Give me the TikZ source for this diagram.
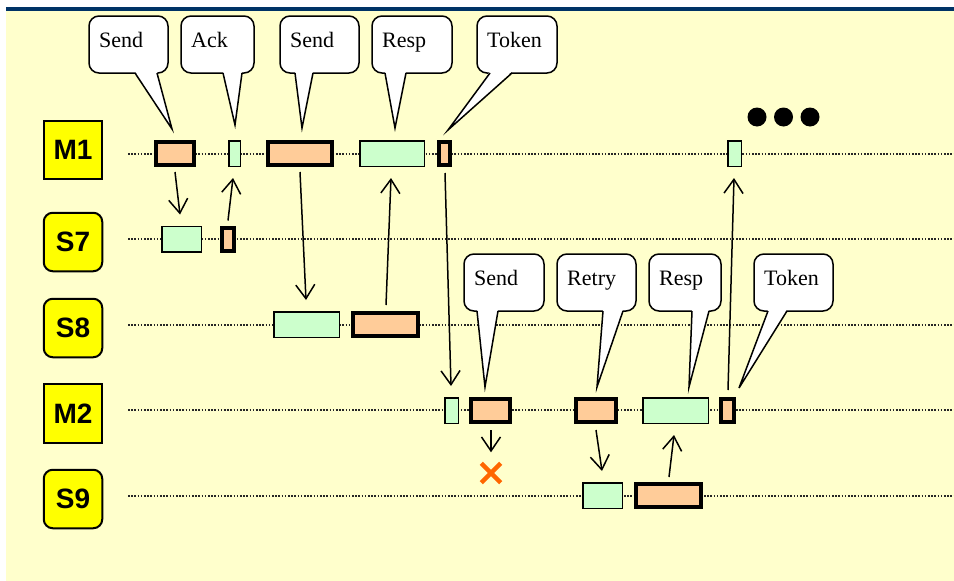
\documentclass[tikz,border=0pt]{standalone}
\usepackage{fontspec}
\setmainfont{Liberation Serif}
\newfontfamily\lanefont{Liberation Sans}
\usetikzlibrary{arrows.meta}
\definecolor{bgyellow}{HTML}{FFFFCC}
\definecolor{barblue}{HTML}{003366}
\definecolor{tagyellow}{HTML}{FFFF00}
\definecolor{reqfill}{HTML}{FFCC99}
\definecolor{ackfill}{HTML}{CCFFCC}
\definecolor{lostmark}{HTML}{FF6600}

% callout: name, left, right, top, bottom, tail base left, tail base right, tip, text
\newcommand\callout[9]{%
  \draw[bubble] (#2,#4) rectangle (#3,#5);
  \fill[white] (#6,#5-1.6) -- (#8) -- (#7,#5-1.6) -- cycle;
  \draw[bubbletail] (#6,#5) -- (#8) -- (#7,#5);
  \node[bubbletext] (#1) at (#2+10,#4+31) {#9};
}

\begin{document}
\begin{tikzpicture}[x=1pt,y=-1pt,
  lane/.style={line width=1.2pt, dash pattern=on 1.6pt off 1.6pt, black!85},
  tag/.style={draw, line width=2pt, fill=tagyellow, minimum size=58.5pt, inner sep=0pt,
    font=\lanefont\fontsize{28}{28}\selectfont\bfseries},
  master/.style={tag},
  slave/.style={tag, rounded corners=9pt},
  req/.style={draw, line width=4pt, fill=reqfill, minimum height=23pt, inner sep=0pt},
  rep/.style={draw, line width=1.5pt, fill=ackfill, minimum height=25.5pt, inner sep=0pt},
  msg/.style={line width=1.5pt, -{Straight Barb[length=14pt,width=19pt]}},
  bubble/.style={draw, line width=1.5pt, fill=white, rounded corners=10pt},
  bubbletail/.style={line width=1.5pt, line join=miter},
  bubbletext/.style={anchor=base west, inner sep=0pt, font=\fontsize{22}{22}\selectfont},
  dot/.style={circle, fill=black, minimum size=19pt, inner sep=0pt},
]
\useasboundingbox (0,0) rectangle (954,581);

% page background and title rule
\fill[white] (0,0) rectangle (954,581);
\fill[bgyellow] (6,11) rectangle (954,581);
\fill[barblue] (6,7) rectangle (954,11);

% time lines of the bus members
\draw[lane] (128,154) -- (954,154);
\draw[lane] (128,239) -- (954,239);
\draw[lane] (128,325) -- (954,325);
\draw[lane] (128,410) -- (954,410);
\draw[lane] (128,496) -- (954,496);

% member tags
\node[master] (lm1) at (73,150) {M1};
\node[slave]  (ls7) at (73,242) {S7};
\node[slave]  (ls8) at (73,328) {S8};
\node[master] (lm2) at (73,413.5) {M2};
\node[slave]  (ls9) at (73,499) {S9};

% frames on M1
\node[req, minimum width=38pt]   (m1a) at (175,153.5) {};
\node[rep, minimum width=11.5pt] (m1b) at (234.5,153.5) {};
\node[req, minimum width=64pt]   (m1c) at (300,153.5) {};
\node[rep, minimum width=64.5pt] (m1d) at (392,153.5) {};
\node[req, minimum width=11pt]   (m1e) at (444.5,153.5) {};
\node[rep, minimum width=13.5pt] (m1f) at (734.5,153.5) {};

% frames on S7
\node[rep, minimum width=39.5pt] (s7a) at (181.5,239) {};
\node[req, minimum width=12pt]   (s7b) at (228,239) {};

% frames on S8
\node[rep, minimum width=65.5pt] (s8a) at (306.5,324.5) {};
\node[req, minimum width=65pt]   (s8b) at (385.5,324.5) {};

% frames on M2
\node[rep, minimum width=13.5pt] (m2a) at (451.5,410.5) {};
\node[req, minimum width=39pt]   (m2b) at (490.5,410.5) {};
\node[req, minimum width=40pt]   (m2c) at (596,410.5) {};
\node[rep, minimum width=65.5pt] (m2d) at (675.5,410.5) {};
\node[req, minimum width=13pt]   (m2e) at (727.5,410.5) {};

% frames on S9
\node[rep, minimum width=39.5pt] (s9a) at (602.5,495.5) {};
\node[req, minimum width=65pt]   (s9b) at (668.5,495.5) {};

% lost frame
\node[minimum size=19pt, inner sep=0pt] (lost) at (491,473) {};
\draw[lostmark, line width=4.5pt] (lost.north west) -- (lost.south east);
\draw[lostmark, line width=4.5pt] (lost.south west) -- (lost.north east);

% continuation
\node[dot] (more1) at (757,117) {};
\node[dot] (more2) at (783.5,117) {};
\node[dot] (more3) at (810,117) {};

% messages
\draw[msg] ([yshift=-5pt]m1a.south) -- ([xshift=-1.5pt,yshift=11pt]s7a.north);
\draw[msg] ([yshift=5pt]s7b.north) -- ([xshift=-1.5pt,yshift=-11pt]m1b.south);
\draw[msg] ([yshift=-5pt]m1c.south) -- ([xshift=-0.5pt,yshift=11pt]s8a.north);
\draw[msg] ([xshift=0.5pt,yshift=6pt]s8b.north) -- ([xshift=-1pt,yshift=-11pt]m1d.south);
\draw[msg] ([xshift=0.5pt,yshift=-6pt]m1e.south) -- ([xshift=-0.5pt,yshift=11pt]m2a.north);
\draw[msg] ([xshift=0.5pt,yshift=-6pt]m2b.south) -- ([yshift=11pt]lost.north);
\draw[msg] ([yshift=-6pt]m2c.south) -- ([xshift=-0.5pt,yshift=11pt]s9a.north);
\draw[msg] ([xshift=0.5pt,yshift=5pt]s9b.north) -- ([xshift=-1.5pt,yshift=-11pt]m2d.south);
\draw[msg] ([xshift=0.5pt,yshift=7pt]m2e.north) -- ([xshift=-0.5pt,yshift=-11pt]m1f.south);

% callouts above M1
\callout{c1}{89}{168}{16}{73}{135}{157}{172,129}{Send}
\callout{c2}{181}{254}{16}{73}{223}{242}{235,125}{Ack}
\callout{c3}{280}{359}{16}{73}{295}{313}{302,128}{Send}
\callout{c4}{372}{452}{16}{73}{385}{406}{395,128}{Resp}
\callout{c5}{477}{557}{16}{73}{490}{512}{448,130}{Token}

% callouts above M2
\callout{c6}{464}{544}{254}{311}{477}{498}{485,387}{Send}
\callout{c7}{557}{636}{254}{311}{603}{623}{597,387}{Retry}
\callout{c8}{649}{721}{254}{311}{692}{709}{689,387}{Resp}
\callout{c9}{754}{833}{254}{311}{768}{787}{739,388}{Token}
\end{tikzpicture}
\end{document}
